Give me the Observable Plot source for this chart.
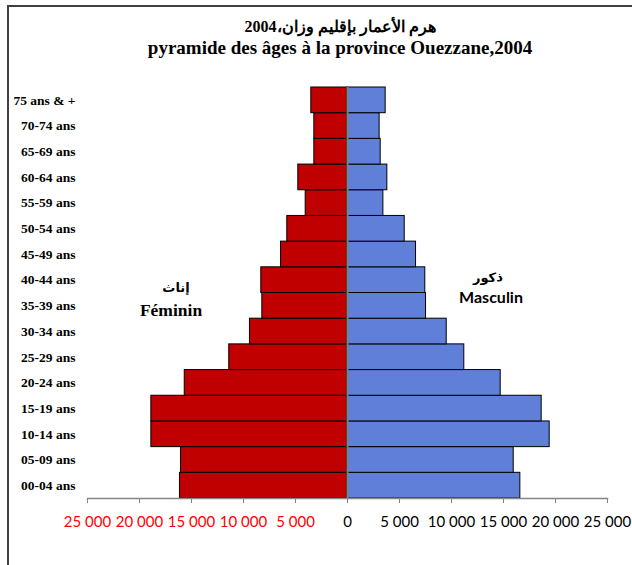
<!DOCTYPE html>
<html><head><meta charset="utf-8">
<script src="https://cdn.jsdelivr.net/npm/d3@7"></script>
<script src="https://cdn.jsdelivr.net/npm/@observablehq/plot@0.6"></script>
<style>
body{margin:0;background:#fff;}
#wrap{position:relative;width:632px;height:565px;overflow:hidden;background:#fff;}
#chart{position:absolute;left:0;top:0;}
#border{position:absolute;left:7px;top:5px;width:700px;height:700px;border-left:2px solid #404040;border-top:2px solid #404040;}
.t{position:absolute;left:40px;width:600px;text-align:center;font-family:"Liberation Serif","Times New Roman",serif;font-weight:bold;color:#000;white-space:nowrap;}
</style></head><body>
<div id="wrap">
<div id="chart"></div>
<div id="border"></div>
<div class="t" dir="rtl" style="top:18px;font-size:16px;line-height:17px;">هرم الأعمار بإقليم وزان،2004</div>
<div class="t" style="top:37.5px;font-size:19px;line-height:20px;">pyramide des âges à la province Ouezzane,2004</div>
</div>
<script>
const ageGroups = ["00-04 ans","05-09 ans","10-14 ans","15-19 ans","20-24 ans","25-29 ans","30-34 ans","35-39 ans","40-44 ans","45-49 ans","50-54 ans","55-59 ans","60-64 ans","65-69 ans","70-74 ans","75 ans & +"];
const feminin = [16110,16010,18860,18860,15650,11370,9380,8190,8290,6390,5790,4020,4730,3190,3190,3480];
const masculin = [16620,15980,19440,18670,14730,11230,9540,7550,7480,6590,5500,3450,3830,3190,3090,3670];
const xTicks = [-25000,-20000,-15000,-10000,-5000,0,5000,10000,15000,20000,25000];

const rows = ageGroups.map((a, i) => ({age: a, f: feminin[i], m: masculin[i]}));
const fmt = d => d3.format(",")(Math.abs(d)).replace(/,/g, " ");

const chart = Plot.plot({
  width: 632,
  height: 565,
  marginLeft: 87,
  marginRight: 25,
  marginTop: 87,
  marginBottom: 67,
  style: {background: "transparent"},
  x: {domain: [-25000, 25000]},
  y: {domain: ageGroups.slice().reverse(), padding: 0, round: false},
  color: {type: "identity"},
  marks: [
    Plot.barX(rows, {y: "age", x: d => -d.f, fill: "#C00000", stroke: "#000", strokeWidth: 1}),
    Plot.barX(rows, {y: "age", x: "m", fill: "#5F7FD9", stroke: "#000", strokeWidth: 1}),
    Plot.ruleX([0], {stroke: "#808080", strokeWidth: 2}),
    Plot.frame({anchor: "bottom", stroke: "#868686", strokeWidth: 1.5}),
    Plot.axisX({ticks: xTicks, tickFormat: fmt, tickSize: 5, tickPadding: 13, stroke: "#868686",
      fill: d => d < 0 ? "#FF0000" : "#000", fontSize: 15, fontFamily: "Lato, 'Open Sans', sans-serif", label: null}),
    Plot.axisY({tickSize: 0, tickPadding: 12, fontSize: 13.5, fontWeight: "bold",
      fontFamily: "'Liberation Serif', 'Times New Roman', serif", fill: "#000", label: null}),
    Plot.text(["إناث"], {x: -16490, y: ["40-44 ans"], text: d => d, dy: 8, fontSize: 13, fontWeight: "bold", fontFamily: "'DejaVu Sans', sans-serif", fill: "#000"}),
    Plot.text(["Féminin"], {x: -16970, y: ["35-39 ans"], text: d => d, dy: 5, fontSize: 17.5, fontWeight: "bold", fontFamily: "'Liberation Serif', serif", fill: "#000"}),
    Plot.text(["ذكور"], {x: 13500, y: ["40-44 ans"], text: d => d, dy: -2, fontSize: 13, fontWeight: "bold", fontFamily: "'DejaVu Sans', sans-serif", fill: "#000"}),
    Plot.text(["Masculin"], {x: 13800, y: ["35-39 ans"], text: d => d, dy: -8, fontSize: 16, fontWeight: "bold", fontFamily: "Lato, sans-serif", fill: "#000"})
  ]
});
document.getElementById("chart").appendChild(chart);
</script>
</body></html>
